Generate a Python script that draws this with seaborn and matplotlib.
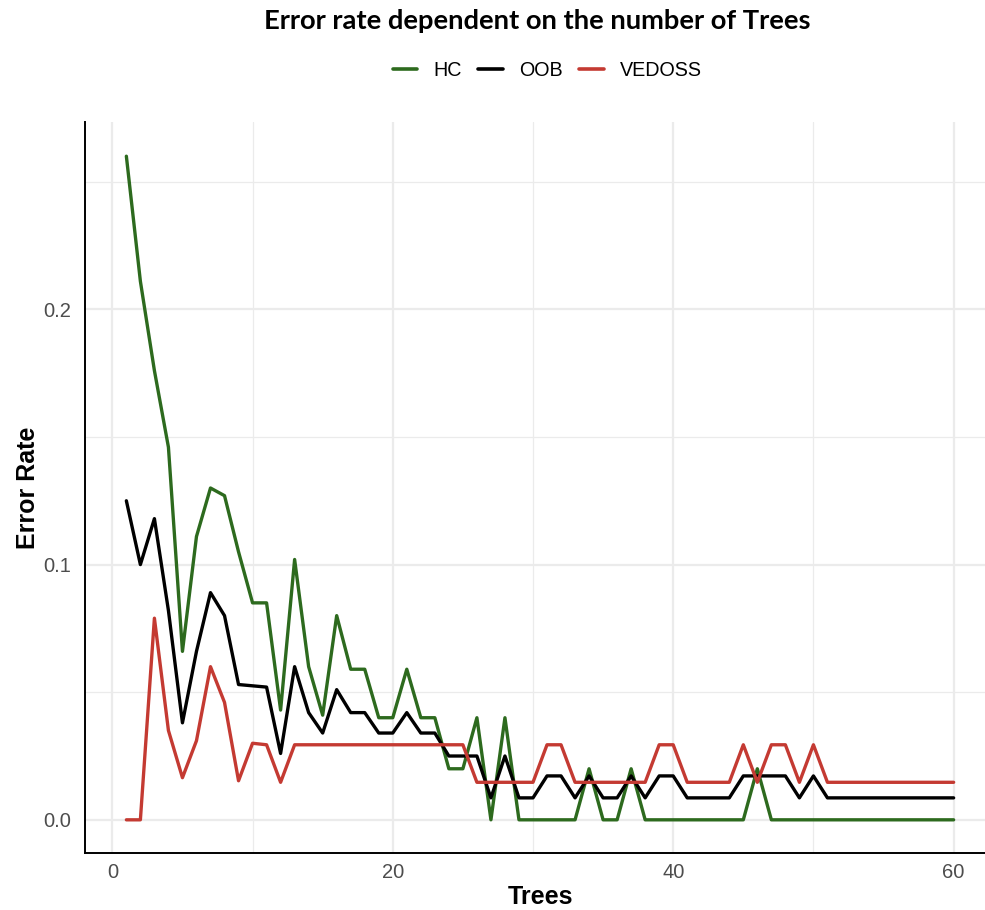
import numpy as np
import pandas as pd
import matplotlib
matplotlib.use("Agg")
import matplotlib.pyplot as plt
import seaborn as sns

# Error rates per number of trees (1..60) for each method
trees = list(range(1, 61))

hc = [0.260, 0.211, 0.176, 0.146, 0.066, 0.111, 0.130, 0.127, 0.105, 0.085,
      0.085, 0.043, 0.102, 0.060, 0.041, 0.080, 0.059, 0.059, 0.040, 0.040,
      0.059, 0.040, 0.040, 0.020, 0.020, 0.040, 0.000, 0.040, 0.000, 0.000,
      0.000, 0.000, 0.000, 0.020, 0.000, 0.000, 0.020, 0.000, 0.000, 0.000,
      0.000, 0.000, 0.000, 0.000, 0.000, 0.020, 0.000, 0.000, 0.000, 0.000,
      0.000, 0.000, 0.000, 0.000, 0.000, 0.000, 0.000, 0.000, 0.000, 0.000]

oob = [0.125, 0.100, 0.118, 0.082, 0.038, 0.066, 0.089, 0.080, 0.053, 0.0525,
       0.052, 0.026, 0.060, 0.042, 0.034, 0.051, 0.042, 0.042, 0.034, 0.034,
       0.042, 0.034, 0.034, 0.025, 0.025, 0.025, 0.0086, 0.025, 0.0086, 0.0086,
       0.0172, 0.0172, 0.0086, 0.0172, 0.0086, 0.0086, 0.0172, 0.0086, 0.0172, 0.0172,
       0.0086, 0.0086, 0.0086, 0.0086, 0.0172, 0.0172, 0.0172, 0.0172, 0.0086, 0.0172,
       0.0086, 0.0086, 0.0086, 0.0086, 0.0086, 0.0086, 0.0086, 0.0086, 0.0086, 0.0086]

vedoss = [0.000, 0.000, 0.079, 0.035, 0.0165, 0.031, 0.060, 0.046, 0.0153, 0.030,
          0.0294, 0.0147, 0.0294, 0.0294, 0.0294, 0.0294, 0.0294, 0.0294, 0.0294, 0.0294,
          0.0294, 0.0294, 0.0294, 0.0294, 0.0294, 0.0147, 0.0147, 0.0147, 0.0147, 0.0147,
          0.0294, 0.0294, 0.0147, 0.0147, 0.0147, 0.0147, 0.0147, 0.0147, 0.0294, 0.0294,
          0.0147, 0.0147, 0.0147, 0.0147, 0.0294, 0.0147, 0.0294, 0.0294, 0.0147, 0.0294,
          0.0147, 0.0147, 0.0147, 0.0147, 0.0147, 0.0147, 0.0147, 0.0147, 0.0147, 0.0147]

methods = ["HC", "OOB", "VEDOSS"]
colors = {"HC": "#2D6A1E", "OOB": "#000000", "VEDOSS": "#C43A32"}

df = pd.DataFrame({
    "Trees": trees * 3,
    "Error Rate": hc + oob + vedoss,
    "Method": ["HC"] * 60 + ["OOB"] * 60 + ["VEDOSS"] * 60,
})

sns.set_theme(style="white")
plt.rcParams["font.family"] = ["Liberation Sans", "DejaVu Sans"]
plt.rcParams["text.color"] = "black"
plt.rcParams["axes.labelcolor"] = "black"

W, H = 985, 910
fig = plt.figure(figsize=(W / 100, H / 100), dpi=100)
# panel: left 85px, right 995px (runs past the right edge), top 122px, bottom 853px
ax = fig.add_axes([85 / W, (H - 853) / H, (995 - 85) / W, (853 - 122) / H])

sns.lineplot(data=df, x="Trees", y="Error Rate", hue="Method",
             hue_order=methods, palette=colors, linewidth=2.4, ax=ax,
             legend=False)

ax.set_xlim(-1.95, 62.95)
ax.set_ylim(-0.013, 0.2734)

ax.set_xticks([0, 20, 40, 60])
ax.set_xticks([10, 30, 50], minor=True)
ax.set_yticks([0.0, 0.1, 0.2])
ax.set_yticks([0.05, 0.15, 0.25], minor=True)
ax.set_yticklabels(["0.0", "0.1", "0.2"])

ax.grid(True, which="major", color="#EBEBEB", linewidth=1.6)
ax.grid(True, which="minor", color="#EBEBEB", linewidth=0.9)
ax.set_axisbelow(True)

for side in ["top", "right"]:
    ax.spines[side].set_visible(False)
for side in ["left", "bottom"]:
    ax.spines[side].set_color("black")
    ax.spines[side].set_linewidth(1.4)

ax.tick_params(axis="y", which="both", length=0, labelsize=14.5,
               labelcolor="#4D4D4D", pad=10)
ax.tick_params(axis="x", which="both", length=0, labelsize=14.5,
               labelcolor="#4D4D4D", pad=7)

ax.set_xlabel("Trees", fontsize=18, fontweight="bold", labelpad=2)
ax.set_ylabel("Error Rate", fontsize=18, fontweight="bold", labelpad=0)
ax.yaxis.set_label_coords(-45 / (995 - 85), 0.5)

fig.text(537 / W, 1 - 21 / H, "Error rate dependent on the number of Trees",
         ha="center", va="center", fontsize=19.7, fontweight="bold",
         color="black", family=["Lato", "DejaVu Sans"])

handles = [plt.Line2D([], [], color=colors[m], linewidth=2.6) for m in methods]
fig.legend(handles, methods, loc="center", bbox_to_anchor=(547 / W, 1 - 70 / H),
           ncol=3, frameon=False, fontsize=14.2, handlelength=1.25,
           columnspacing=0.85, handletextpad=0.8)

fig.savefig("out.png", dpi=100)
